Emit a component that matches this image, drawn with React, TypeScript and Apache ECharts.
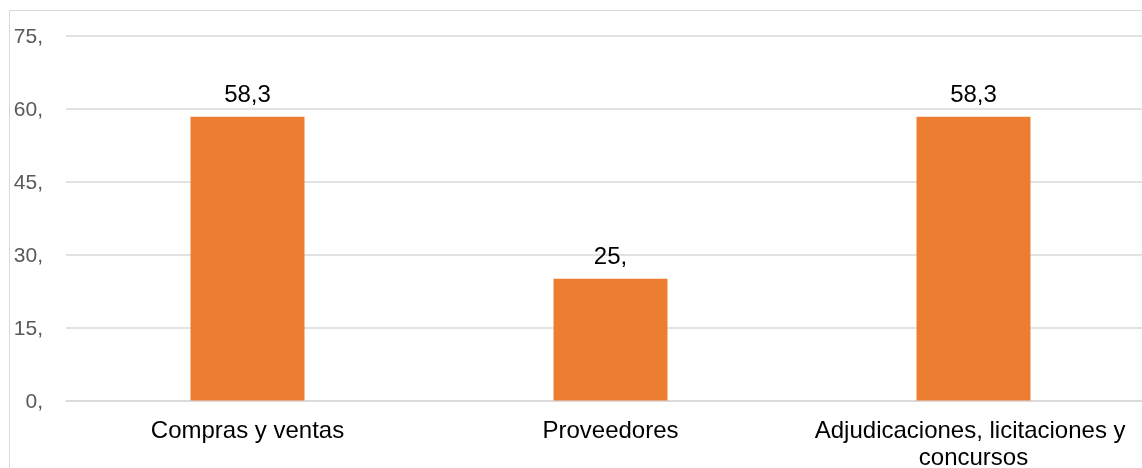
import React, { useEffect, useRef } from "react";
import * as echarts from "echarts";

const categories = ["Compras y ventas", "Proveedores", "Adjudicaciones, licitaciones y concursos"];
const values = [58.3, 25, 58.3];
const yTicks = { min: 0, max: 75, interval: 15 };

const fmt = (v: number) => {
  const s = String(v).replace(".", ",");
  return Number.isInteger(v) ? s + "," : s;
};

export default function App() {
  const ref = useRef<HTMLDivElement>(null);
  useEffect(() => {
    const chart = echarts.init(ref.current!, null, { renderer: "svg" });
    chart.setOption({
      animation: false,
      textStyle: { fontFamily: "Liberation Sans, Arial, sans-serif" },
      graphic: [
        {
          type: "rect",
          shape: { x: 9.5, y: 10.5, width: 1200, height: 500 },
          style: { fill: "none", stroke: "#d9d9d9", lineWidth: 1 },
          silent: true,
        },
      ],
      grid: {
        left: 66,
        width: 1089,
        top: 35.5,
        height: 365,
        containLabel: false,
        outerBoundsMode: "none",
      },
      xAxis: {
        type: "category",
        data: categories,
        axisTick: { show: false },
        axisLine: { lineStyle: { color: "#d9d9d9", width: 1.5 } },
        axisLabel: {
          color: "#000",
          fontSize: 24,
          lineHeight: 27,
          margin: 15,
          width: 345,
          overflow: "break",
          interval: 0,
        },
      },
      yAxis: {
        type: "value",
        min: yTicks.min,
        max: yTicks.max,
        interval: yTicks.interval,
        axisLine: { show: false },
        axisTick: { show: false },
        splitLine: { lineStyle: { color: "#d9d9d9", width: 1.5 } },
        axisLabel: {
          color: "#595959",
          fontSize: 21,
          margin: 23,
          formatter: (v: number) => fmt(v),
        },
      },
      series: [
        {
          type: "bar",
          data: values,
          barWidth: "31.4%",
          itemStyle: { color: "#ED7D31" },
          label: {
            show: true,
            position: "top",
            distance: 11,
            color: "#000",
            fontSize: 24,
            formatter: (p: any) => fmt(p.value),
          },
        },
      ],
    });
    return () => chart.dispose();
  }, []);
  return (
    <div
      ref={ref}
      style={{ position: "fixed", left: 0, top: 0, width: 1142, height: 468 }}
    />
  );
}
